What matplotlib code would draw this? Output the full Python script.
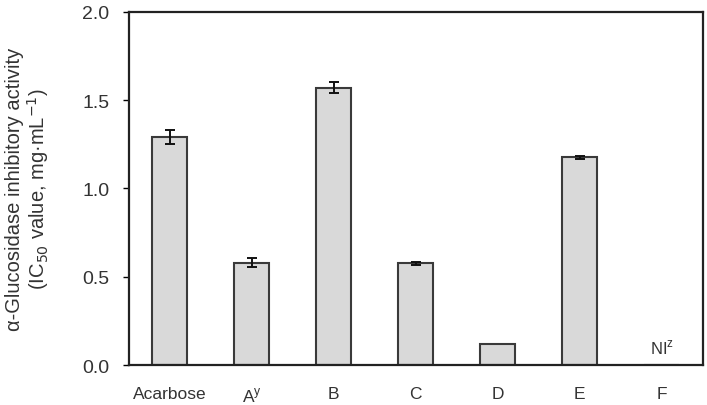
import matplotlib
matplotlib.use("Agg")
import matplotlib.pyplot as plt

plt.rcParams["font.family"] = ["Liberation Sans", "DejaVu Sans"]

# data
samples = ["Acarbose", r"A$^{\mathregular{y}}$", "B", "C", "D", "E", "F"]
ic50 = [1.29, 0.58, 1.57, 0.575, 0.12, 1.175, 0.0]
ic50_err = [0.04, 0.025, 0.03, 0.01, 0.0, 0.01, 0.0]
not_inhibited = ["F"]

TEXT = "#333333"

fig = plt.figure(figsize=(7.07, 4.06), dpi=100)
ax = fig.add_axes([0.182, 0.0985, 0.812, 0.87])

x = list(range(len(samples)))
shown = [v if s not in not_inhibited else 0 for s, v in zip(samples, ic50)]
ax.bar(x, shown, width=0.43, color="#d9d9d9", edgecolor="#3a3a3a", linewidth=1.5)

# no visible error bar where the SD is zero
ex = [i for i in x if ic50_err[i] > 0]
ax.errorbar(ex, [shown[i] for i in ex], yerr=[ic50_err[i] for i in ex], fmt="none",
            ecolor="#111111", elinewidth=1.4, capsize=3.5, capthick=1.4)

for i, s in enumerate(samples):
    if s in not_inhibited:
        ax.text(i, 0.1, r"NI$^{\mathregular{z}}$", ha="center", va="center",
                fontsize=12, color=TEXT)

ax.set_xlim(-0.5, len(samples) - 0.5)
ax.set_ylim(0, 2.0)
ax.set_yticks([0, 0.5, 1.0, 1.5, 2.0])
ax.set_yticklabels(["0.0", "0.5", "1.0", "1.5", "2.0"])
ax.set_xticks(x)
ax.set_xticklabels(samples)
ax.tick_params(axis="x", length=0, pad=15, labelsize=12.5, labelcolor=TEXT)
ax.tick_params(axis="y", direction="out", length=4, width=1, pad=10, labelsize=14, labelcolor=TEXT)
for sp in ax.spines.values():
    sp.set_color("#222222")
    sp.set_linewidth(1.6)

ax.set_ylabel("α-Glucosidase inhibitory activity\n(IC$_{50}$ value, mg·mL$^{-1}$)",
              fontsize=14.5, color=TEXT, linespacing=1.05)
ax.yaxis.set_label_coords(-0.135, 0.5)

fig.savefig("out.png", dpi=100)
